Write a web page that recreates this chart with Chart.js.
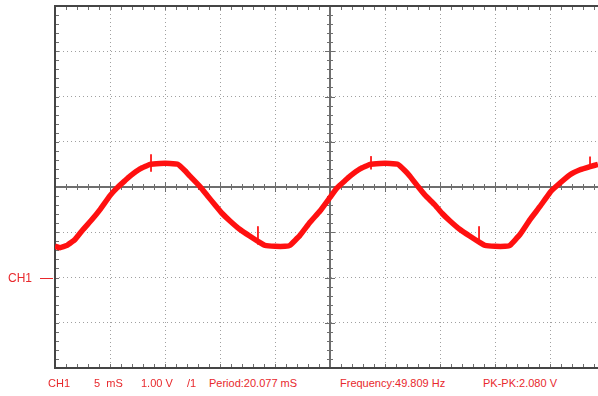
<!DOCTYPE html>
<html>
<head>
<meta charset="utf-8">
<script src="https://cdn.jsdelivr.net/npm/chart.js@4.4.1/dist/chart.umd.min.js"></script>
<style>
  html, body { margin: 0; padding: 0; background: #fff; overflow: hidden; width: 598px; height: 396px; }
  #wrap { position: absolute; left: 0; top: 0; width: 610px; height: 370px; }
  .lbl { position: absolute; color: #e8282c; font-family: "Liberation Sans", Arial, sans-serif; font-size: 11px; white-space: pre; line-height: 1; }
  #chMark { position: absolute; left: 40px; top: 278px; width: 13px; height: 1px; background: #e8282c; }
</style>
</head>
<body>
<div id="wrap"><canvas id="scope"></canvas></div>
<div class="lbl" style="left:8px; top:272px; font-size:12px;">CH1</div>
<div id="chMark"></div>
<div id="info"></div>
<script>
// Trace: time in ms (5 ms/div), CH1 voltage in V (1 V/div, ground = CH1 mark)
const timeMs = [
  0.00, 0.45, 1.09, 1.82, 2.55, 3.36, 4.09, 5.00, 5.64, 6.36, 6.82, 7.73, 8.64, 9.55, 10.45, 11.18,
  11.82, 12.27, 13.18, 13.82, 14.55, 15.18, 15.91, 16.82, 17.73, 18.64, 19.09, 20.00, 20.91, 21.36,
  22.27, 23.18, 24.09, 25.00, 25.64, 26.36, 26.82, 27.73, 28.64, 29.55, 30.45, 31.18, 31.82, 32.27,
  33.00, 33.64, 34.55, 35.18, 35.91, 36.82, 37.73, 38.64, 39.09, 40.00, 40.91, 41.36, 42.27, 43.18,
  44.09, 45.00, 45.55, 46.82, 47.73, 48.64, 49.36
];
const ch1Volts = [
  0.69, 0.66, 0.71, 0.84, 1.06, 1.28, 1.50, 1.81, 1.98, 2.14, 2.24, 2.40, 2.50, 2.52, 2.52, 2.50,
  2.36, 2.24, 2.01, 1.82, 1.60, 1.42, 1.25, 1.06, 0.91, 0.77, 0.71, 0.69, 0.69, 0.71,
  0.93, 1.22, 1.47, 1.77, 1.98, 2.14, 2.24, 2.40, 2.50, 2.52, 2.52, 2.50, 2.36, 2.24,
  2.01, 1.82, 1.60, 1.42, 1.25, 1.06, 0.91, 0.77, 0.71, 0.69, 0.69, 0.71, 0.95, 1.28,
  1.57, 1.88, 2.01, 2.27, 2.38, 2.45, 2.50
];
// little glitches on the trace
const spikeTimes = [8.73, 18.45, 28.73, 38.55, 48.64];
const spikeTop = [2.72, 1.13, 2.68, 1.13, 2.67];
const spikeBottom = [2.34, 0.73, 2.39, 0.80, 2.42];

// status line under the screen
const infoTexts = ['CH1', '5  mS', '1.00 V', '/1', 'Period:20.077 mS', 'Frequency:49.809 Hz', 'PK-PK:2.080 V'];
const infoLeft = [48, 94, 141, 187, 209, 340, 483];

const infoBox = document.getElementById('info');
infoTexts.forEach((t, i) => {
  const d = document.createElement('div');
  d.className = 'lbl';
  d.style.left = infoLeft[i] + 'px';
  d.style.top = '378px';
  d.textContent = t;
  infoBox.appendChild(d);
});

const tracePoints = timeMs.map((t, i) => ({ x: t, y: ch1Volts[i] }));
const spikePoints = [];
spikeTimes.forEach((t, i) => {
  spikePoints.push({ x: t, y: spikeTop[i] });
  spikePoints.push({ x: t, y: spikeBottom[i] });
  spikePoints.push({ x: t, y: null });
});

// frame, centre cross and the small division marks
const scopeFrame = {
  id: 'scopeFrame',
  beforeDatasetsDraw(chart) {
    const { ctx, chartArea: a, scales: { x, y } } = chart;
    ctx.save();
    const cx = x.getPixelForValue(25);
    const cy = y.getPixelForValue(2);

    ctx.strokeStyle = '#6e6e6e';
    ctx.lineWidth = 2;
    ctx.beginPath();
    ctx.moveTo(a.left, cy); ctx.lineTo(a.right, cy);
    ctx.moveTo(cx, a.top); ctx.lineTo(cx, a.bottom);
    ctx.stroke();

    ctx.lineWidth = 1;
    ctx.beginPath();
    for (let t = 0; t <= 50; t++) {
      const px = Math.round(x.getPixelForValue(t)) + 0.5;
      const len = t % 5 === 0 ? 5 : 3;
      ctx.moveTo(px, cy - len); ctx.lineTo(px, cy + len);
      ctx.moveTo(px, a.top); ctx.lineTo(px, a.top + 4);
      ctx.moveTo(px, a.bottom); ctx.lineTo(px, a.bottom - 4);
    }
    for (let k = -10; k <= 30; k++) {
      const py = Math.round(y.getPixelForValue(k / 5)) + 0.5;
      const len = k % 5 === 0 ? 5 : 3;
      ctx.moveTo(cx - len, py); ctx.lineTo(cx + len, py);
      ctx.moveTo(a.left, py); ctx.lineTo(a.left + 4, py);
    }
    ctx.stroke();

    ctx.strokeStyle = '#454545';
    ctx.lineWidth = 2;
    ctx.beginPath();
    ctx.moveTo(a.right, a.top); ctx.lineTo(a.left, a.top);
    ctx.lineTo(a.left, a.bottom); ctx.lineTo(a.right, a.bottom);
    ctx.stroke();
    ctx.restore();
  }
};

const ctx = document.getElementById('scope').getContext('2d');
new Chart(ctx, {
  type: 'line',
  data: {
    datasets: [
      {
        data: tracePoints,
        borderColor: '#ff1010',
        borderWidth: 5.5,
        borderJoinStyle: 'round',
        pointRadius: 0,
        tension: 0.1
      },
      {
        data: spikePoints,
        borderColor: '#ff1010',
        borderWidth: 1,
        pointRadius: 0,
        spanGaps: false
      }
    ]
  },
  options: {
    responsive: true,
    maintainAspectRatio: false,
    animation: false,
    layout: { padding: { left: 55, top: 6, right: 5, bottom: 2 } },
    plugins: { legend: { display: false }, tooltip: { enabled: false } },
    scales: {
      x: {
        type: 'linear',
        min: 0,
        max: 50,
        ticks: { display: false, stepSize: 5 },
        grid: { color: '#a0a0a0', drawTicks: false, lineWidth: 1 },
        border: { display: false, dash: [1, 3] }
      },
      y: {
        min: -2,
        max: 6,
        ticks: { display: false, stepSize: 1 },
        grid: { color: '#a0a0a0', drawTicks: false, lineWidth: 1 },
        border: { display: false, dash: [1, 3] }
      }
    }
  },
  plugins: [scopeFrame]
});
</script>
</body>
</html>
